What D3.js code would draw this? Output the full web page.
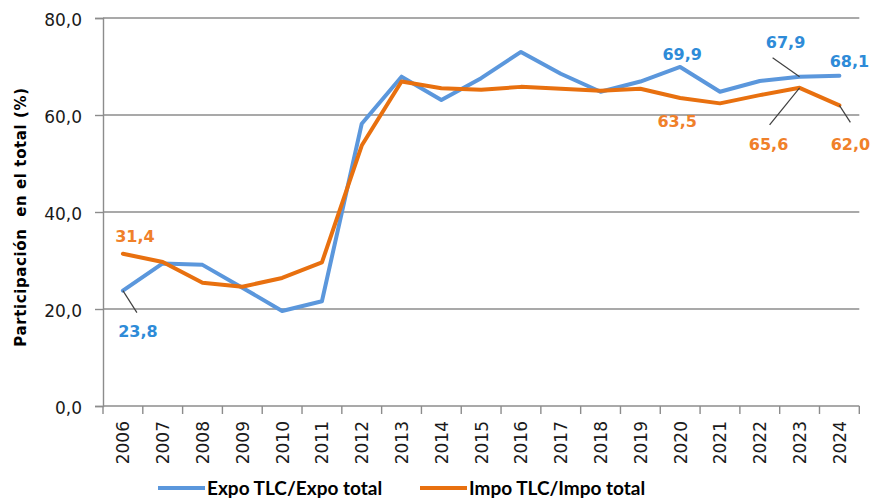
<!DOCTYPE html>
<html>
<head>
<meta charset="utf-8">
<script src="https://cdn.jsdelivr.net/npm/d3@7"></script>
<style>
  body { margin: 0; background: #fff; }
</style>
</head>
<body>
<div id="box1"></div>
<script>
var years = [2006, 2007, 2008, 2009, 2010, 2011, 2012, 2013, 2014, 2015,
             2016, 2017, 2018, 2019, 2020, 2021, 2022, 2023, 2024];
var expo = [23.8, 29.4, 29.1, 24.4, 19.6, 21.6, 58.2, 67.9, 63.1, 67.6,
            73.0, 68.5, 64.8, 66.9, 69.9, 64.8, 67.0, 67.9, 68.1];
var impo = [31.4, 29.7, 25.4, 24.6, 26.4, 29.6, 53.7, 66.9, 65.5, 65.2,
            65.8, 65.4, 65.0, 65.4, 63.5, 62.4, 64.1, 65.6, 62.0];
var yTicks = [0, 20, 40, 60, 80];
var seriesNames = ["Expo TLC/Expo total", "Impo TLC/Impo total"];

// which points get a value label: [series, year]
var labelled = [[0, 2006], [0, 2020], [0, 2023], [0, 2024],
                [1, 2006], [1, 2020], [1, 2023], [1, 2024]];

document.addEventListener("DOMContentLoaded", function(e) {
    chart1();
});

function fmt(v){
    return v.toFixed(1).replace(".", ",");
}

function chart1(){
    var width = 871;
    var height = 500;
    var left = 103, right = 859.3, top = 18, bottom = 406;
    var lineColors = ["#5b97dc", "#e8700f"];
    var labelColors = ["#2e8bd8", "#f0802a"];
    var allSeries = [expo, impo];

    var svg = d3.select("#box1")
        .append("svg")
        .attr("width", width)
        .attr("height", height);

    var x = d3.scaleBand()
        .domain(years)
        .range([left, right]);
    var y = d3.scaleLinear()
        .domain([0, 80])
        .range([bottom, top]);

    // gridlines
    svg.append("g")
        .selectAll("line")
        .data(yTicks.slice(1))
        .enter()
        .append("line")
        .attr("x1", left)
        .attr("x2", right)
        .attr("y1", function(d){ return y(d); })
        .attr("y2", function(d){ return y(d); })
        .attr("stroke", "#8c8c8c")
        .attr("stroke-width", 1.4);

    // y axis
    var yAxis = svg.append("g")
        .attr("transform", "translate(" + left + ",0)")
        .call(d3.axisLeft(y).tickValues(yTicks).tickSize(8).tickFormat(fmt));
    yAxis.select(".domain").attr("stroke", "#8c8c8c").attr("stroke-width", 1.4);
    yAxis.selectAll(".tick line").attr("stroke", "#8c8c8c").attr("stroke-width", 1.4);
    yAxis.selectAll(".tick text")
        .attr("x", -21)
        .attr("dy", "0.45em")
        .attr("font-family", "DejaVu Sans")
        .attr("font-size", 17)
        .attr("fill", "#1a1a1a");

    // x axis line + boundary ticks
    svg.append("line")
        .attr("x1", left).attr("x2", right)
        .attr("y1", bottom).attr("y2", bottom)
        .attr("stroke", "#8c8c8c")
        .attr("stroke-width", 1.4);
    var bounds = years.map(function(d){ return x(d); }).concat([right]);
    svg.append("g")
        .selectAll("line")
        .data(bounds)
        .enter()
        .append("line")
        .attr("x1", function(d){ return d; })
        .attr("x2", function(d){ return d; })
        .attr("y1", bottom)
        .attr("y2", bottom + 8)
        .attr("stroke", "#8c8c8c")
        .attr("stroke-width", 1.4);

    svg.append("g")
        .selectAll("text")
        .data(years)
        .enter()
        .append("text")
        .attr("transform", function(d){
            return "translate(" + (x(d) + x.bandwidth() / 2) + "," + (bottom + 15) + ") rotate(-90)";
        })
        .attr("text-anchor", "end")
        .attr("dy", "0.38em")
        .attr("font-family", "DejaVu Sans")
        .attr("font-size", 17)
        .attr("fill", "#1a1a1a")
        .text(function(d){ return d; });

    // y title
    svg.append("text")
        .attr("transform", "translate(26,217) rotate(-90)")
        .attr("text-anchor", "middle")
        .attr("font-family", "DejaVu Sans")
        .attr("font-weight", "bold")
        .attr("font-size", 15)
        .attr("letter-spacing", 0.6)
        .attr("xml:space", "preserve")
        .style("white-space", "pre")
        .text("Participación  en el total (%)");

    // lines
    var line = d3.line()
        .x(function(d, i){ return x(years[i]) + x.bandwidth() / 2; })
        .y(function(d){ return y(d); });

    for (var s = 0; s < allSeries.length; s++){
        svg.append("path")
            .datum(allSeries[s])
            .attr("d", line)
            .attr("fill", "none")
            .attr("stroke", lineColors[s])
            .attr("stroke-width", 4)
            .attr("stroke-linejoin", "round")
            .attr("stroke-linecap", "round");
    }

    // label offsets from the point: dx, dy, leader end (optional)
    var offsets = {
        "0-2006": [15, 46, [14, 22]],
        "0-2020": [2, -7],
        "0-2023": [-14, -29, [-27, -19]],
        "0-2024": [10, -9],
        "1-2006": [12, -12],
        "1-2020": [-3, 29],
        "1-2023": [-31, 62, [-30, 37]],
        "1-2024": [11, 45, [11, 17]]
    };

    labelled.forEach(function(l){
        var s = l[0], yr = l[1];
        var i = years.indexOf(yr);
        var v = allSeries[s][i];
        var px = x(yr) + x.bandwidth() / 2;
        var py = y(v);
        var o = offsets[s + "-" + yr];
        if (o[2]){
            svg.append("line")
                .attr("x1", px).attr("y1", py)
                .attr("x2", px + o[2][0]).attr("y2", py + o[2][1])
                .attr("stroke", "#404040")
                .attr("stroke-width", 1.2);
        }
        svg.append("text")
            .attr("x", px + o[0])
            .attr("y", py + o[1])
            .attr("text-anchor", "middle")
            .attr("font-family", "DejaVu Sans")
            .attr("font-weight", "bold")
            .attr("font-size", 16)
            .attr("fill", labelColors[s])
            .text(fmt(v));
    });

    // legend
    var legX = [158, 420];
    for (var k = 0; k < seriesNames.length; k++){
        svg.append("line")
            .attr("x1", legX[k]).attr("x2", legX[k] + 47)
            .attr("y1", 488).attr("y2", 488)
            .attr("stroke", lineColors[k])
            .attr("stroke-width", 4);
        svg.append("text")
            .attr("x", legX[k] + 49)
            .attr("y", 495)
            .attr("font-family", "Lato")
            .attr("font-weight", "bold")
            .attr("font-size", 19)
            .attr("fill", "#000")
            .text(seriesNames[k]);
    }
}
</script>
</body>
</html>
